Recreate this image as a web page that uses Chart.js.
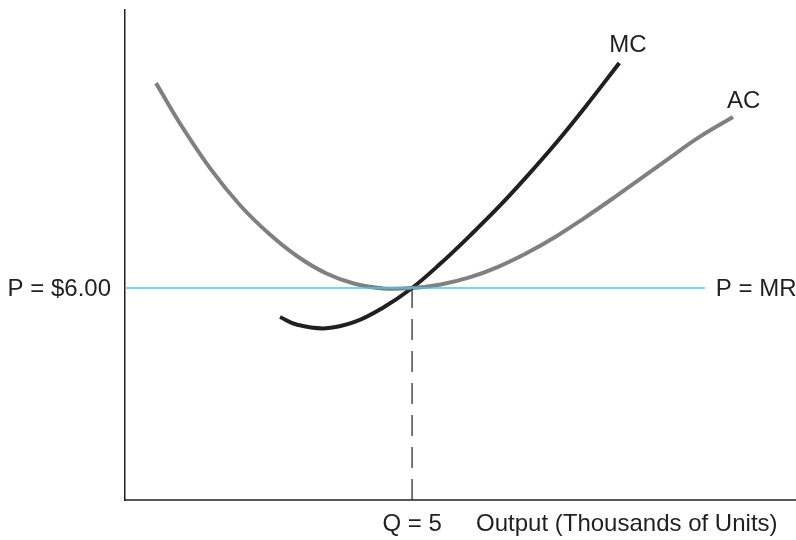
<!DOCTYPE html>
<html>
<head>
<meta charset="utf-8">
<script src="https://cdn.jsdelivr.net/npm/chart.js@4/dist/chart.umd.min.js"></script>
<style>
  html, body { margin: 0; padding: 0; background: #fff; }
  #wrap { width: 796px; height: 540px; }
</style>
</head>
<body>
<div id="wrap"><canvas id="costChart" width="796" height="540"></canvas></div>
<script>
// Average cost curve (output in thousands, cost in $)
const acQ = [0.54, 1.0, 1.5, 2.0, 2.5, 3.0, 3.5, 4.0, 4.5, 5.0, 5.5, 6.0, 6.5, 7.0, 7.5, 8.0, 8.5, 9.0, 9.5, 10.0, 10.59];
const acCost = [11.8, 10.55, 9.35, 8.35, 7.55, 6.9, 6.42, 6.12, 5.99, 6.0, 6.1, 6.3, 6.6, 6.99, 7.45, 7.98, 8.54, 9.12, 9.7, 10.27, 10.84];

// Marginal cost curve
const mcQ = [2.7, 3.0, 3.5, 4.0, 4.5, 5.0, 5.5, 6.0, 6.5, 7.0, 7.5, 8.0, 8.61];
const mcCost = [5.18, 4.96, 4.86, 5.04, 5.45, 6.0, 6.7, 7.47, 8.28, 9.16, 10.09, 11.09, 12.37];

// Price line and equilibrium quantity
const price = 6;
const priceQ = [0, 10.1];
const qStar = 5;

const xMax = 11.67;
const yMax = 13.87;

const priceLabel = "P = $6.00";
const mrLabel = "P = MR";
const qLabel = "Q = 5";
const xTitle = "Output (Thousands of Units)";
const curveNames = ["AC", "MC"];

const zip = (xs, ys) => xs.map((x, i) => ({ x: x, y: ys[i] }));

const labelPlugin = {
  id: "labels",
  afterDraw(chart) {
    const { ctx, scales: { x, y } } = chart;
    ctx.save();
    ctx.fillStyle = "#231f20";
    ctx.font = "24px 'Liberation Sans', Arial, sans-serif";
    ctx.textBaseline = "middle";

    ctx.textAlign = "right";
    ctx.fillText(priceLabel, x.getPixelForValue(0) - 14, y.getPixelForValue(price) + 1);

    ctx.textAlign = "left";
    ctx.fillText(mrLabel, x.getPixelForValue(priceQ[1]) + 11, y.getPixelForValue(price) + 1);

    // curve names near the ends
    const acEnd = acQ.length - 1;
    ctx.fillText(curveNames[0], x.getPixelForValue(acQ[acEnd]) - 6, y.getPixelForValue(acCost[acEnd]) - 16);
    const mcEnd = mcQ.length - 1;
    ctx.fillText(curveNames[1], x.getPixelForValue(mcQ[mcEnd]) - 10, y.getPixelForValue(mcCost[mcEnd]) - 18);

    ctx.textAlign = "center";
    const below = y.getPixelForValue(0) + 24;
    ctx.fillText(qLabel, x.getPixelForValue(qStar), below);
    ctx.textAlign = "left";
    ctx.fillText(xTitle, x.getPixelForValue(qStar) + 64, below);
    ctx.restore();
  },
};

new Chart(document.getElementById("costChart").getContext("2d"), {
  type: "line",
  data: {
    datasets: [
      {
        label: "P = MR",
        data: zip(priceQ, [price, price]),
        borderColor: "#4dc3ec",
        borderWidth: 1.5,
        pointRadius: 0,
      },
      {
        label: "Q",
        data: [{ x: qStar, y: 0 }, { x: qStar, y: price }],
        borderColor: "#231f20",
        borderWidth: 1.2,
        borderDash: [21, 11],
        pointRadius: 0,
      },
      {
        label: "AC",
        data: zip(acQ, acCost),
        borderColor: "#808083",
        borderWidth: 4,
        borderCapStyle: "butt",
        tension: 0.4,
        pointRadius: 0,
      },
      {
        label: "MC",
        data: zip(mcQ, mcCost),
        borderColor: "#231f20",
        borderWidth: 4,
        borderCapStyle: "butt",
        tension: 0.4,
        pointRadius: 0,
      },
    ],
  },
  options: {
    responsive: false,
    animation: false,
    layout: { padding: { left: 125, top: 10, right: 1, bottom: 40 } },
    plugins: {
      legend: { display: false },
      tooltip: { enabled: false },
    },
    scales: {
      x: {
        type: "linear",
        min: 0,
        max: xMax,
        ticks: { display: false },
        grid: { display: false, drawTicks: false },
        border: { display: true, color: "#58595b", width: 2 },
      },
      y: {
        type: "linear",
        min: 0,
        max: yMax,
        ticks: { display: false },
        grid: { display: false, drawTicks: false },
        border: { display: true, color: "#231f20", width: 1.5 },
      },
    },
  },
  plugins: [labelPlugin],
});
</script>
</body>
</html>
